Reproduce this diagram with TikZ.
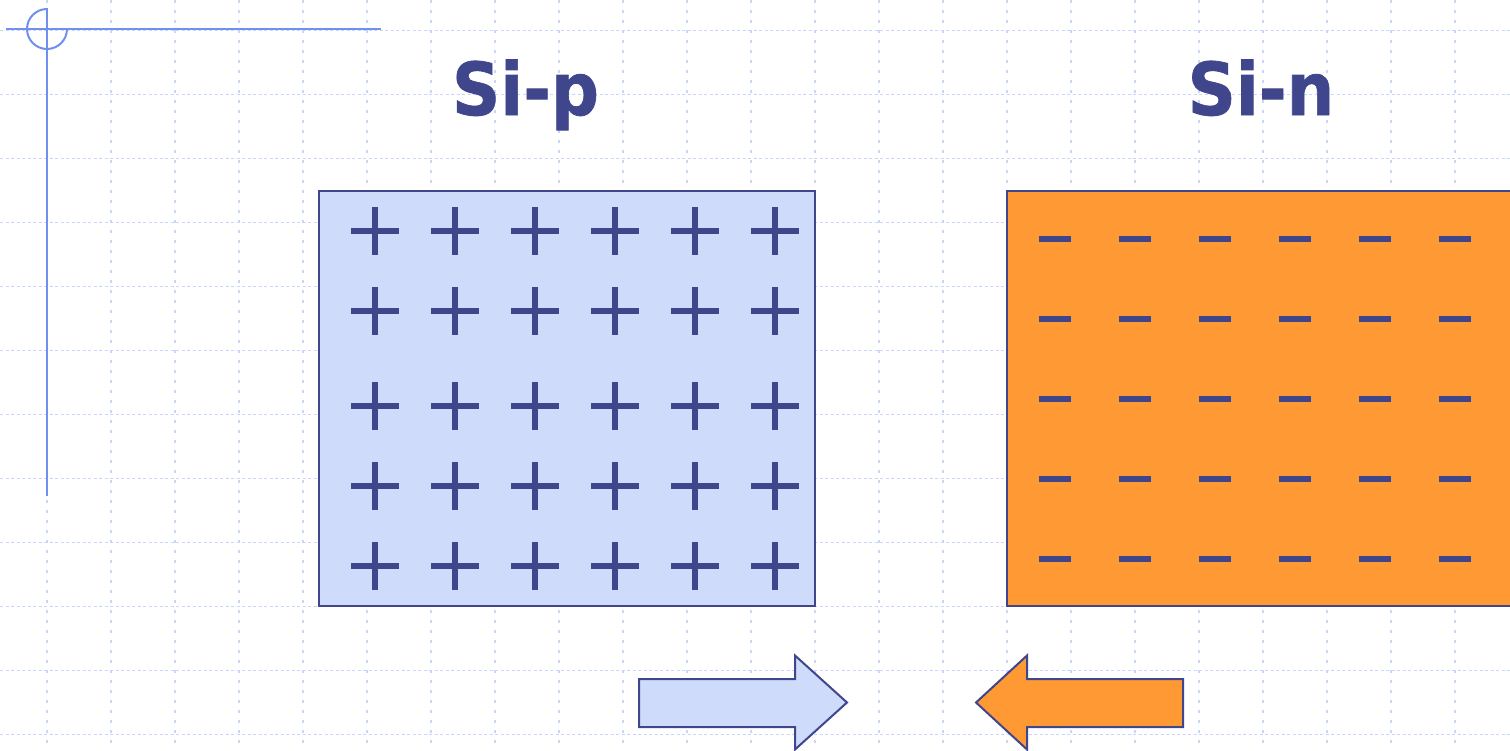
\documentclass[tikz,border=0pt]{standalone}
\usepackage{fontspec}
\setmainfont{DejaVu Sans}
\newfontfamily\titlefont{DejaVu Sans Bold}[FakeBold=1]
\definecolor{dkblue}{RGB}{64,70,140}
\definecolor{ltblue}{RGB}{206,219,250}
\definecolor{orng}{RGB}{255,153,51}
\definecolor{gridc}{RGB}{200,214,248}
\definecolor{deco}{RGB}{112,144,240}
\tikzset{
  gridh/.style={gridc, line width=1.6pt, dash pattern=on 3pt off 2.5pt},
  gridv/.style={gridc, line width=1.6pt, dash pattern=on 2.5pt off 7.5pt},
  decoline/.style={deco, line width=2pt},
  boxp/.style={draw=dkblue, line width=2pt, fill=ltblue, inner sep=0pt},
  boxn/.style={draw=dkblue, line width=2pt, fill=orng, inner sep=0pt},
  sign/.style={dkblue, line width=6pt},
  title/.style={text=dkblue, font=\fontsize{67}{80}\selectfont\titlefont, anchor=base, inner sep=0pt},
  bigarrow/.style={draw=dkblue, line width=2pt, line join=miter}
}
\begin{document}
\begin{tikzpicture}[x=1pt, y=-1pt]
\useasboundingbox (0,0) rectangle (1510,750);
\clip (0,0) rectangle (1510,750);
% grid
\foreach \x in {47,111,...,1455} \draw[gridv] (\x,0) -- (\x,750);
\foreach \y in {30.5,94.5,...,734.5} \draw[gridh] (0,\y) -- (1510,\y);
% corner decoration
\draw[decoline] (6,29) -- (381,29);
\draw[decoline] (47,8) -- (47,496);
\draw[decoline] (47,9) arc[start angle=90, end angle=360, radius=20pt];
% titles
\node[title] (tp) at (525.5,115) {\scalebox{1}[1.09]{Si-p}};
\node[title] (tn) at (1261,115) {\scalebox{1}[1.09]{Si-n}};
% boxes
\draw[boxp] (319,191) rectangle (815,606);
\draw[boxn] (1007,191) rectangle (1520,606);
% plus signs
\foreach \y in {231,311,406,486,566}
  \foreach \x in {375,455,535,615,695,775} {
    \draw[sign] (\x-24,\y) -- (\x+24,\y);
    \draw[sign] (\x,\y-24) -- (\x,\y+24);
  }
% minus signs
\foreach \y in {239,319,399,479,559}
  \foreach \x in {1055,1135,1215,1295,1375,1455}
    \draw[sign] (\x-16,\y) -- (\x+16,\y);
% arrows
\draw[bigarrow, fill=ltblue] (639,679) -- (795,679) -- (795,655.5) -- (847,702.5) -- (795,749.5) -- (795,727) -- (639,727) -- cycle;
\draw[bigarrow, fill=orng] (1183,679) -- (1027,679) -- (1027,655.5) -- (976,702.5) -- (1027,749.5) -- (1027,727) -- (1183,727) -- cycle;
\end{tikzpicture}
\end{document}
